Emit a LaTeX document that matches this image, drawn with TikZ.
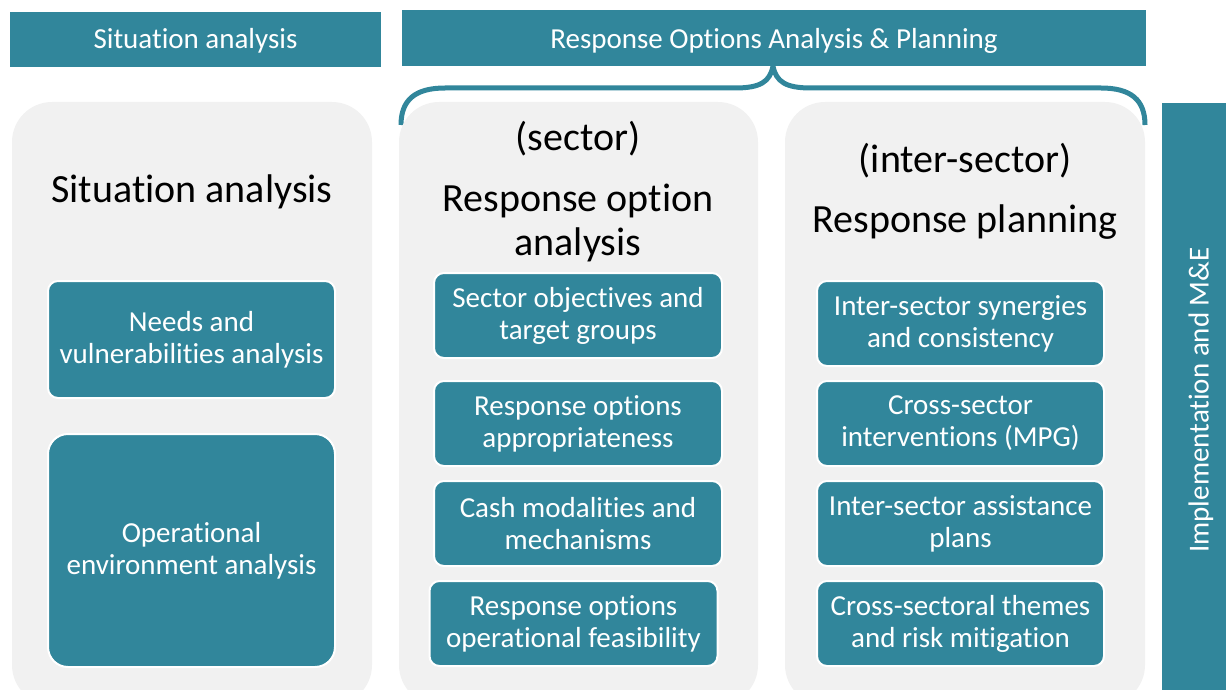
\documentclass[tikz,border=0pt]{standalone}
\usepackage{fontspec}
\setmainfont{Carlito}[Ligatures={NoCommon}]
\definecolor{teal1}{HTML}{31869B}
\definecolor{panelgray}{HTML}{F1F1F1}
\begin{document}
\begin{tikzpicture}[x=1pt,y=-1pt,
  hdr/.style={fill=teal1,draw=none,text=white,font=\fontsize{29}{32}\selectfont},
  panel/.style={fill=panelgray,draw=none,rounded corners=40pt},
  box/.style={fill=teal1,draw=white,line width=2pt,rounded corners=10pt,text=white,
    align=center,font=\fontsize{29}{32}\selectfont,inner sep=0pt},
  bigt/.style={align=center,font=\fontsize{40}{44}\selectfont,text=black,anchor=base,inner sep=0pt},
  brace/.style={draw=teal1,line width=5pt}]
\useasboundingbox (0,0) rectangle (1226,690);
% headers
\node[hdr,minimum width=371pt,minimum height=55pt] (h1) at (195.5,39.5) {};
\node[text=white,font=\fontsize{29}{32}\selectfont,anchor=base,inner sep=0pt] (h1t) at (195.5,49) {Situation analysis};
\node[hdr,minimum width=744pt,minimum height=56pt] (h2) at (774,38) {};
\node[text=white,font=\fontsize{29}{32}\selectfont,anchor=base,inner sep=0pt] (h2t) at (774,49) {Response Options Analysis \& Planning};
% brace
\coordinate (bl) at (401,125);
\coordinate (br) at (1145,125);
\coordinate (bc) at (773,66);
\draw[brace] (bl) .. controls (401,100) and (415,88) .. (445,88) -- (735,88)
  .. controls (760,88) and (770,82) .. (bc)
  .. controls (776,82) and (786,88) .. (811,88) -- (1101,88)
  .. controls (1131,88) and (1145,100) .. (br);
% panels
\fill[panel] (12,102) rectangle (372,705);
\fill[panel] (399,102) rectangle (758,705);
\fill[panel] (785,102) rectangle (1145,705);
% right bar
\node[fill=teal1,minimum width=64pt,minimum height=590pt,inner sep=0pt] (bar) at (1194,398) {};
\node[rotate=90,text=white,font=\fontsize{29}{32}\selectfont,inner sep=0pt] (bart) at (1201,400) {Implementation and M\&E};
% titles
\node[bigt] (t1) at (192,202) {Situation analysis};
\node[bigt] (t2a) at (578,150) {(sector)};
\node[bigt] (t2b) at (578,255) {Response option\\analysis};
\node[bigt] (t3a) at (965,172) {(inter-sector)};
\node[bigt] (t3b) at (965,232) {Response planning};
% column 1 boxes
\node[box,minimum width=287pt,minimum height=117pt] (c1a) at (191.5,339.5) {Needs and\\vulnerabilities analysis};
\node[box,rounded corners=20pt,minimum width=287pt,minimum height=233pt] (c1b) at (191.5,550.5) {Operational\\environment analysis};
% column 2 boxes
\node[box,minimum width=288pt,minimum height=85pt] (c2a) at (578,315.5) {Sector objectives and\\target groups};
\node[box,minimum width=288pt,minimum height=85pt] (c2b) at (578,423.5) {Response options\\appropriateness};
\node[box,minimum width=288pt,minimum height=85pt] (c2c) at (578,523.5) {Cash modalities and\\mechanisms};
\node[box,minimum width=288pt,minimum height=85pt] (c2d) at (573.5,623.5) {Response options\\operational feasibility};
% column 3 boxes
\node[box,minimum width=287pt,minimum height=85pt] (c3a) at (960.5,323.5) {Inter-sector synergies\\and consistency};
\node[box,minimum width=287pt,minimum height=85pt] (c3b) at (960.5,423.5) {Cross-sector\\interventions (MPG)};
\node[box,minimum width=287pt,minimum height=85pt] (c3c) at (960.5,523.5) {Inter-sector assistance\\plans};
\node[box,minimum width=287pt,minimum height=85pt] (c3d) at (960.5,623.5) {Cross-sectoral themes\\and risk mitigation};
\end{tikzpicture}
\end{document}
